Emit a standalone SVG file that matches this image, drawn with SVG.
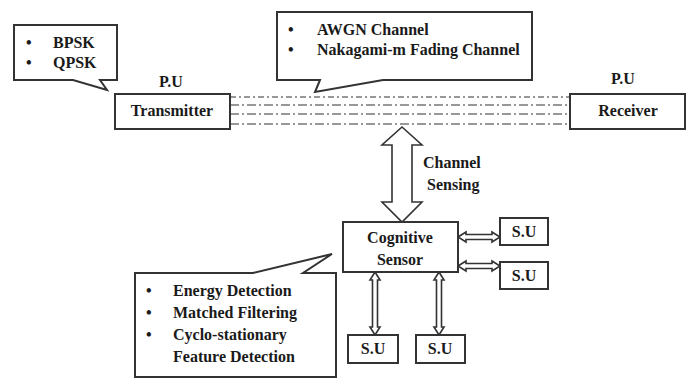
<svg xmlns="http://www.w3.org/2000/svg" width="692" height="379" viewBox="0 0 692 379">
<style>
.box{fill:#fff;stroke:#333;stroke-width:2}
.call{fill:#fff;stroke:#333;stroke-width:2;stroke-linejoin:miter}
.t{font-family:'Liberation Serif','Times New Roman',Times,serif;font-weight:bold;font-size:16px;fill:#1a1a1a}
.c{text-anchor:middle}
.dl{stroke:#777;stroke-width:1.3;fill:none;stroke-dasharray:9 3 2 3}
.arr{fill:#fff;stroke:#333;stroke-width:1.6;stroke-linejoin:miter}
</style>
<rect width="692" height="379" fill="#fff"/>

<g id="connectors">
  <line class="dl" x1="230" y1="97" x2="570" y2="97" style="stroke-dasharray:6 3 2 3"/>
  <line class="dl" x1="230" y1="105" x2="570" y2="105"/>
  <line class="dl" x1="230" y1="114" x2="570" y2="114"/>
  <line class="dl" x1="230" y1="124" x2="570" y2="124"/>
  <polygon class="arr" points="402,127 422,145 412,145 412,202 422,202 402,222 382,202 392,202 392,145 382,145"/>
  <polygon class="arr" points="458,237 466,232 466,234.5 492,234.5 492,232 500,237 492,242 492,239.5 466,239.5 466,242"/>
  <polygon class="arr" points="458,266 466,261 466,263.5 492,263.5 492,261 500,266 492,271 492,268.5 466,268.5 466,271"/>
  <polygon class="arr" points="375,272 380,280 377.5,280 377.5,327 380,327 375,335 370,327 372.5,327 372.5,280 370,280"/>
  <polygon class="arr" points="439,272 444,280 441.5,280 441.5,327 444,327 439,335 434,327 436.5,327 436.5,280 434,280"/>
  <text class="t" x="423" y="168">Channel</text>
  <text class="t" x="427" y="190">Sensing</text>
</g>

<g id="modulation-callout">
  <path class="call" d="M14,25 H117 V80 H100 L107,90 L73,80 H14 Z"/>
  <text class="t" x="26" y="48">•</text>
  <text class="t" x="53" y="48">BPSK</text>
  <text class="t" x="26" y="68">•</text>
  <text class="t" x="53" y="68">QPSK</text>
</g>

<g id="channel-callout">
  <path class="call" d="M277,12 H532 V80 H383 L315,92 L320,80 H277 Z"/>
  <text class="t" x="288" y="35">•</text>
  <text class="t" x="317" y="35">AWGN Channel</text>
  <text class="t" x="288" y="55">•</text>
  <text class="t" x="317" y="55">Nakagami-m Fading Channel</text>
</g>

<g id="transmitter">
  <text class="t c" x="171" y="87">P.U</text>
  <rect class="box" x="115" y="94" width="115" height="35"/>
  <text class="t c" x="172" y="116">Transmitter</text>
</g>

<g id="receiver">
  <text class="t c" x="623" y="84">P.U</text>
  <rect class="box" x="570" y="94" width="115" height="35"/>
  <text class="t c" x="628" y="116">Receiver</text>
</g>

<g id="cognitive-sensor">
  <rect class="box" x="343" y="222" width="115" height="50"/>
  <text class="t c" x="400" y="243">Cognitive</text>
  <text class="t c" x="400" y="265">Sensor</text>
</g>

<g id="detection-callout">
  <path class="call" d="M135,273 H253 L332,254 L303,273 H336 V377 H135 Z"/>
  <text class="t" x="146" y="296">•</text>
  <text class="t" x="173" y="296">Energy Detection</text>
  <text class="t" x="146" y="318">•</text>
  <text class="t" x="173" y="318">Matched Filtering</text>
  <text class="t" x="146" y="340">•</text>
  <text class="t" x="173" y="340">Cyclo-stationary</text>
  <text class="t" x="173" y="362">Feature Detection</text>
</g>

<g id="su-1">
  <rect class="box" x="500" y="218" width="48" height="27"/>
  <text class="t c" x="524" y="237">S.U</text>
</g>
<g id="su-2">
  <rect class="box" x="500" y="262" width="48" height="27"/>
  <text class="t c" x="524" y="281">S.U</text>
</g>
<g id="su-3">
  <rect class="box" x="348" y="335" width="50" height="28"/>
  <text class="t c" x="373" y="354">S.U</text>
</g>
<g id="su-4">
  <rect class="box" x="416" y="335" width="49" height="28"/>
  <text class="t c" x="440" y="354">S.U</text>
</g>
</svg>
